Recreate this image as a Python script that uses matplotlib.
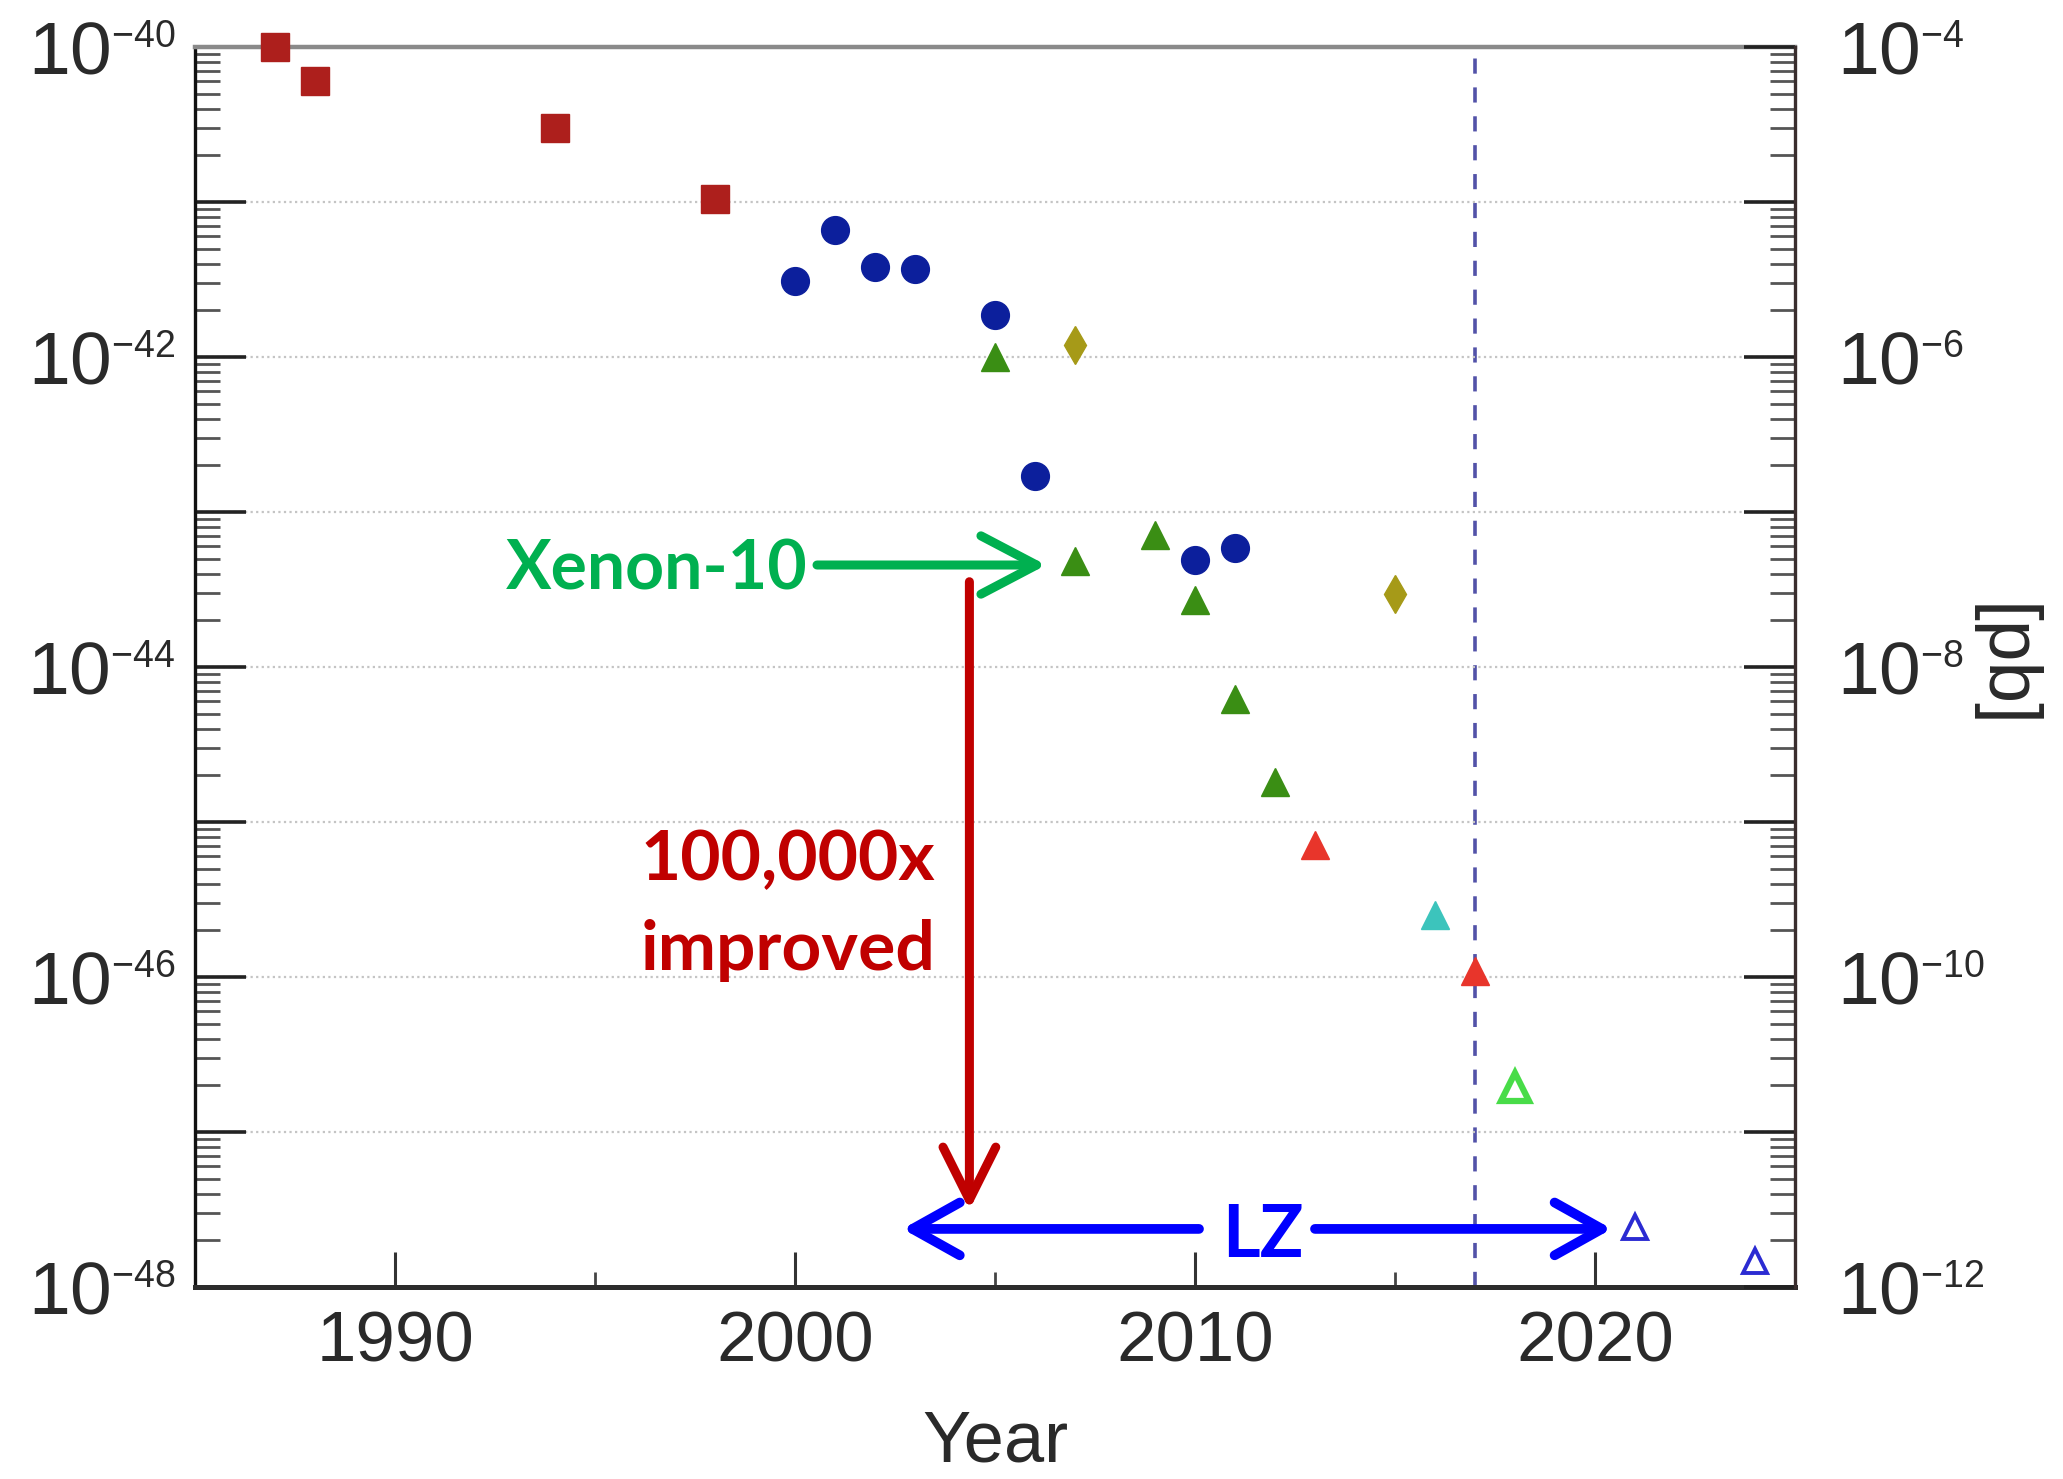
import numpy as np
import matplotlib
matplotlib.use("Agg")
import matplotlib.pyplot as plt
import matplotlib._mathtext as mathtext_impl
from matplotlib.ticker import LogLocator, FuncFormatter, MultipleLocator, NullFormatter

# smaller exponents, as in the original figure
mathtext_impl.SHRINK_FACTOR = 0.5

plt.rcParams['mathtext.fontset'] = 'custom'
plt.rcParams['mathtext.rm'] = 'Liberation Sans'
plt.rcParams['font.family'] = ['Liberation Sans', 'DejaVu Sans']

# cross-section limits (cm^2), by detector family
red_sq_years = [1987, 1988, 1994, 1998]
red_sq_vals = [1.0e-40, 6.0e-41, 3.0e-41, 1.05e-41]

blue_dot_years = [2000, 2001, 2002, 2003, 2005, 2006, 2010, 2011]
blue_dot_vals = [3.1e-42, 6.6e-42, 3.8e-42, 3.7e-42, 1.86e-42, 1.7e-43, 4.9e-44, 5.9e-44]

green_tri_years = [2005, 2007, 2009, 2010, 2011, 2012]
green_tri_vals = [1.0e-42, 4.8e-44, 7.1e-44, 2.7e-44, 6.2e-45, 1.8e-45]

olive_years = [2007, 2015]
olive_vals = [1.2e-42, 2.95e-44]

red_tri_years = [2013, 2017]
red_tri_vals = [7.1e-46, 1.1e-46]

cyan_years = [2016]
cyan_vals = [2.5e-46]

lgreen_years = [2018]
lgreen_vals = [1.95e-47]

lz_years = [2021, 2024]
lz_vals = [2.45e-48, 1.48e-48]

now_year = 2017

fig = plt.figure(figsize=(20.63, 14.79), dpi=100)
W, H = 2063, 1479
ax = fig.add_axes([195 / W, 1 - 1287 / H, 1600 / W, 1240 / H])

ax.set_yscale('log')
ax.set_xlim(1985, 2025)
ax.set_ylim(1e-48, 1e-40)

# grid at every decade
ax.yaxis.set_major_locator(LogLocator(base=10, numticks=30))
ax.yaxis.set_minor_locator(LogLocator(base=10, subs=np.arange(2, 10), numticks=100))
ax.yaxis.set_minor_formatter(NullFormatter())


def even_label(v, pos):
    e = int(round(np.log10(v)))
    if e % 2:
        return ''
    return r'$\mathregular{10^{%d}}$' % e


ax.yaxis.set_major_formatter(FuncFormatter(even_label))
ax.grid(True, axis='y', which='major', color='#c4c4c4', lw=1.6, ls=(0, (1, 1.5)))

ax.xaxis.set_major_locator(MultipleLocator(10))
ax.xaxis.set_minor_locator(MultipleLocator(5))

ax.tick_params(axis='y', which='major', direction='in', length=37, width=2.6,
               color='#222222', labelsize=54, labelcolor='#2a2a2a', pad=14)
ax.tick_params(axis='y', which='minor', direction='in', length=18, width=2.0, color='#555555')
ax.tick_params(axis='x', which='major', direction='in', length=25, width=2.2,
               color='#333333', labelsize=51, labelcolor='#2a2a2a', pad=17)
ax.tick_params(axis='x', which='minor', direction='in', length=11, width=2.0, color='#444444')
ax.tick_params(top=False, which='both')

ax.spines['left'].set_linewidth(2.4)
ax.spines['left'].set_color('#111111')
ax.spines['bottom'].set_linewidth(3.6)
ax.spines['bottom'].set_color('#2c2c2c')
ax.spines['top'].set_linewidth(3.2)
ax.spines['top'].set_color('#8a8a8a')
ax.spines['right'].set_visible(False)

ax.set_xlabel('Year', fontsize=52, color='#2a2a2a', labelpad=24)

ax.axvline(now_year, color='#5252a8', lw=2.6, ls=(0, (4.2, 3.8)), zorder=1)

ax.plot(red_sq_years, red_sq_vals, ls='none', marker='s', ms=20, color='#ad1f1c', clip_on=False, zorder=4)
ax.plot(blue_dot_years, blue_dot_vals, ls='none', marker='o', ms=20, color='#0c1f9c', zorder=4)
ax.plot(green_tri_years, green_tri_vals, ls='none', marker='^', ms=20, color='#3a8e14', zorder=4)
ax.plot(olive_years, olive_vals, ls='none', marker='d', ms=19, color='#a69a18', zorder=4)
ax.plot(red_tri_years, red_tri_vals, ls='none', marker='^', ms=20, color='#e8352b', zorder=4)
ax.plot(cyan_years, cyan_vals, ls='none', marker='^', ms=20, color='#3cc4bc', zorder=4)
ax.plot(lgreen_years, lgreen_vals, ls='none', marker='^', ms=20, mfc='white',
        mec='#48dc48', mew=4.5, zorder=4)
ax.plot(lz_years, lz_vals, ls='none', marker='^', ms=17, mfc='white',
        mec='#2b2bd2', mew=2.8, zorder=4)

# right axis in picobarn (1 pb = 1e-36 cm^2)
ax2 = ax.twinx()
ax2.set_yscale('log')
ax2.set_ylim(1e-12, 1e-4)
ax2.yaxis.set_major_locator(LogLocator(base=10, numticks=30))
ax2.yaxis.set_minor_locator(LogLocator(base=10, subs=np.arange(2, 10), numticks=100))
ax2.yaxis.set_minor_formatter(NullFormatter())
ax2.yaxis.set_major_formatter(FuncFormatter(even_label))
ax2.tick_params(axis='y', which='major', direction='in', length=37, width=2.6,
                color='#222222', labelsize=54, labelcolor='#2a2a2a', pad=30)
ax2.tick_params(axis='y', which='minor', direction='in', length=18, width=2.0, color='#555555')
for s in ['left', 'top', 'bottom']:
    ax2.spines[s].set_visible(False)
ax2.spines['right'].set_linewidth(2.4)
ax2.spines['right'].set_color('#3a2e2e')
ax2.set_ylabel('[pb]', fontsize=54, color='#2a2a2a', rotation=270, labelpad=38)

# annotations
ann_font = dict(family=['Lato', 'DejaVu Sans'], weight='bold')

ax.text(2000.32, 3.14e-44, 'Xenon-10', color='#00b050', fontsize=49,
        ha='right', va='baseline', **ann_font)
ax.annotate('', xy=(2006.28, 4.55e-44), xytext=(2000.55, 4.55e-44),
            arrowprops=dict(arrowstyle='->,head_length=4.0,head_width=2.1', mutation_scale=10,
                            lw=6.5, color='#00b050', shrinkA=0, shrinkB=0, capstyle='round'))

ax.annotate('', xy=(2004.36, 3.14e-48), xytext=(2004.36, 3.55e-44),
            arrowprops=dict(arrowstyle='->,head_length=3.8,head_width=1.9', mutation_scale=10,
                            lw=6.5, color='#c00000', shrinkA=0, shrinkB=0, capstyle='round'))
ax.text(2003.5, 4.23e-46, '100,000x', color='#c00000', fontsize=50,
        ha='right', va='baseline', **ann_font)
ax.text(2003.5, 1.11e-46, 'improved', color='#c00000', fontsize=50,
        ha='right', va='baseline', **ann_font)

ax.text(2011.7, 1.56e-48, 'LZ', color='#0000ff', fontsize=52,
        ha='center', va='baseline', **ann_font)
ax.annotate('', xy=(2002.69, 2.37e-48), xytext=(2010.1, 2.37e-48),
            arrowprops=dict(arrowstyle='->,head_length=3.4,head_width=1.9', mutation_scale=10,
                            lw=7, color='#0000ff', shrinkA=0, shrinkB=0, capstyle='round'))
ax.annotate('', xy=(2020.42, 2.37e-48), xytext=(2013.0, 2.37e-48),
            arrowprops=dict(arrowstyle='->,head_length=3.4,head_width=1.9', mutation_scale=10,
                            lw=7, color='#0000ff', shrinkA=0, shrinkB=0, capstyle='round'))

fig.savefig('out.png', dpi=100, facecolor='white')
